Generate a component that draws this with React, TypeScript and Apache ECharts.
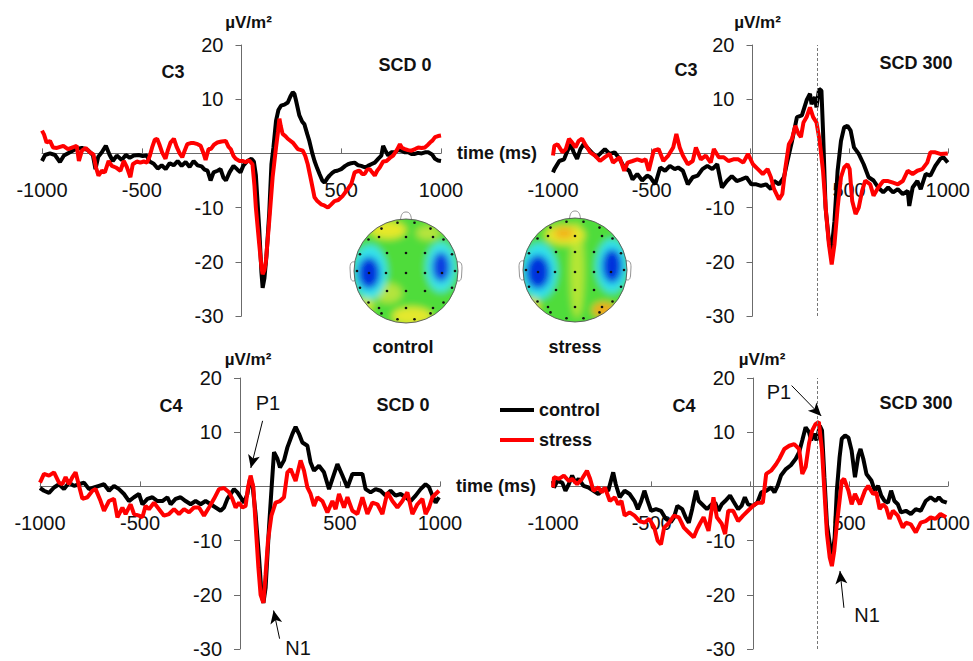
import React, { useEffect, useRef } from "react";
import * as echarts from "echarts";

type Pt = [number, number];

// ---------- data (time in ms, amplitude in µV/m²) ----------
const c3Scd0Control: Pt[] = [[-1000,-1.4],[-985,-0.3],[-960,0],[-935,-0.3],[-910,-1.6],[-890,-0.4],[-860,0.2],[-830,0.8],[-800,1.0],[-770,0.6],[-745,-0.3],[-732,-2.9],[-718,-0.6],[-700,0.2],[-680,1.4],[-662,-0.2],[-645,-1.4],[-625,-0.4],[-600,-1.2],[-580,-0.3],[-560,-0.8],[-540,-0.4],[-515,-0.3],[-495,-0.5],[-475,-0.4],[-460,-1.5],[-440,-1.9],[-420,-2.8],[-400,-2.2],[-380,-2.9],[-360,-1.8],[-340,-2.2],[-320,-1.4],[-300,-2.3],[-280,-1.6],[-260,-2.5],[-240,-1.4],[-220,-2.2],[-200,-2.4],[-185,-3.0],[-170,-3.2],[-155,-5.0],[-140,-3.5],[-120,-3.2],[-105,-2.9],[-90,-4.5],[-78,-5.0],[-60,-3.5],[-40,-2.3],[-20,-3.0],[-5,-3.5],[10,-2.2],[30,-1.4],[50,-1.0],[62,-1.5],[72,-4.0],[89,-14],[100,-22],[106,-24.8],[115,-23],[125,-19],[139,-11],[150,-2],[160,1.1],[173,6],[185,8],[198,8.8],[215,9],[232,9.4],[245,10.5],[257,11.3],[265,11],[273,9.8],[290,7],[305,5.8],[315,5.4],[330,3.5],[340,2.3],[355,0],[366,-1.4],[380,-2.8],[391,-3.8],[405,-5.0],[416,-5.4],[430,-4.6],[441,-4.1],[455,-3.6],[466,-3.3],[480,-3.2],[500,-2.9],[520,-2.3],[534,-2.0],[550,-1.8],[567,-1.7],[585,-2.2],[600,-2.3],[620,-2.6],[634,-2.3],[650,-2.0],[668,-1.7],[685,-1.0],[701,-0.4],[710,1.4],[720,0.6],[735,-0.4],[750,0.2],[768,0.2],[785,0.6],[802,0.5],[820,0.2],[836,0.2],[852,-0.1],[869,-0.1],[885,0.1],[903,0],[920,0.2],[936,0.2],[955,-0.2],[970,-1.0],[985,-1.3],[1000,-1.4]];
const c3Scd0Stress: Pt[] = [[-1000,4.2],[-990,3.5],[-977,2.0],[-960,2.3],[-945,1.1],[-925,1.0],[-893,1.4],[-870,0.8],[-840,1.2],[-826,1.4],[-815,-1.4],[-800,0.5],[-780,1.0],[-760,0.2],[-742,-0.2],[-730,-2.5],[-717,-4.1],[-700,-3.2],[-685,-3.5],[-666,-1.4],[-650,-2.3],[-630,-2.6],[-607,-3.2],[-590,-1.4],[-575,-2.5],[-557,-4.4],[-545,-2.0],[-525,-1.5],[-507,-1.7],[-490,-1.5],[-473,-1.7],[-460,-0.5],[-448,1.1],[-435,2.5],[-423,2.7],[-410,1.5],[-398,0.2],[-381,-1.0],[-370,0.5],[-356,2.0],[-339,2.7],[-325,1.2],[-310,0],[-297,-0.7],[-285,0.5],[-272,1.7],[-255,1.9],[-238,1.9],[-220,1.7],[-205,1.4],[-190,0],[-180,-1.2],[-165,0.8],[-154,0.8],[-138,1.6],[-121,2.0],[-100,2.2],[-79,2.3],[-65,1.2],[-54,0.8],[-40,-0.5],[-29,-1.0],[-10,-1.4],[5,-1.4],[20,-1.6],[39,-1.3],[55,-2.0],[65,-6],[72,-10],[89,-16.8],[100,-21],[106,-22.3],[115,-21.5],[122,-20],[139,-12.5],[156,-4.4],[173,1.1],[183,4],[190,6.4],[197,5],[206,3.6],[220,3.2],[232,2.7],[257,2.0],[282,0.8],[307,0.5],[320,-0.5],[332,-2],[349,-5],[366,-8.1],[380,-8.8],[399,-9.4],[415,-9.6],[433,-10],[450,-9.4],[466,-8.8],[485,-8.6],[508,-7.8],[530,-6.7],[550,-5.7],[567,-3.5],[580,-3.3],[592,-3.2],[605,-3.8],[617,-3.8],[630,-3.0],[643,-2.9],[655,-3.5],[668,-4.1],[680,-3.2],[693,-2.6],[710,-1.5],[727,-1.4],[745,-0.8],[760,-0.4],[780,0.7],[794,1.7],[805,1.0],[819,0.8],[835,0.6],[852,0.5],[870,0.8],[886,1.1],[903,1.0],[919,1.1],[935,1.6],[945,2.0],[958,2.4],[970,3.0],[985,3.2],[1000,3.3]];

const c3Scd300Control: Pt[] = [[-1000,-3.5],[-993,-2.9],[-968,-1.4],[-944,-1.1],[-930,0.2],[-911,1.7],[-895,0.2],[-878,-1.0],[-861,0.8],[-845,1.7],[-828,1.1],[-804,0.2],[-779,-0.7],[-754,0.2],[-737,0.8],[-713,-0.1],[-688,0.2],[-663,-1.0],[-639,-2.6],[-614,-3.2],[-597,-4.8],[-573,-3.8],[-548,-5.0],[-523,-4.1],[-507,-4.4],[-482,-5.7],[-457,-2.6],[-432,-3.2],[-408,-2.3],[-383,-2.9],[-366,-2.6],[-342,-3.2],[-317,-5.7],[-292,-4.4],[-267,-4.1],[-243,-2.9],[-218,-2.3],[-193,-2.9],[-168,-2.0],[-144,-6.3],[-119,-5.1],[-94,-4.2],[-69,-5.1],[-45,-4.8],[-20,-4.4],[5,-5.7],[30,-5.7],[54,-6.0],[79,-5.7],[104,-6.6],[120,-5.1],[145,-5.7],[170,-4.4],[186,-1.7],[211,2.3],[236,6.7],[261,7.0],[285,9.8],[302,11.0],[310,9.1],[327,10.4],[335,8.5],[348,11.9],[360,11.6],[368,4.2],[381,-10],[398,-16.2],[409,-18.6],[426,-12.5],[442,-3.2],[459,2.3],[475,4.8],[492,5.1],[508,4.2],[525,1.1],[549,-0.1],[574,-2.0],[599,-4.4],[624,-5.0],[648,-6.3],[673,-7.2],[698,-6.3],[723,-7.2],[747,-6.6],[772,-7.5],[797,-6.9],[805,-9.7],[822,-6.3],[846,-5.1],[863,-6.6],[888,-3.8],[912,-4.1],[937,-2.3],[962,-1.0],[978,-0.7],[1000,-1.7]];
const c3Scd300Stress: Pt[] = [[-1000,-0.4],[-993,1.4],[-977,1.7],[-952,0.2],[-935,0.8],[-919,2.7],[-903,2.0],[-886,1.1],[-870,2.3],[-853,2.7],[-837,1.7],[-812,0.2],[-787,-0.4],[-762,-1.4],[-737,-0.7],[-713,-0.1],[-696,-1.7],[-663,-0.7],[-639,-3.2],[-622,-1.7],[-597,-1.4],[-573,-1.1],[-548,-1.4],[-531,-1.1],[-515,-3.2],[-490,0.5],[-465,0.8],[-441,-1.4],[-416,-0.4],[-391,1.1],[-375,3.6],[-358,1.1],[-342,-0.4],[-317,-2.0],[-292,-1.4],[-276,1.1],[-251,-1.1],[-226,-0.4],[-201,-1.7],[-185,0.8],[-160,-0.7],[-135,-0.7],[-111,-1.4],[-86,-1.1],[-61,-1.1],[-36,-1.7],[-12,-0.1],[13,-2.0],[38,-2.9],[63,-3.8],[87,-2.9],[104,-4.4],[120,-6.6],[145,-8.5],[162,-7.5],[178,-2.5],[195,1.7],[211,2.7],[228,5.1],[244,3.6],[256,3.0],[269,5.7],[285,6.7],[302,8.5],[318,6.7],[335,5.7],[351,2.3],[368,-3.2],[384,-11.2],[398,-16.8],[412,-20.5],[426,-16.8],[442,-10],[459,-4.4],[475,-2.6],[492,-2.0],[503,-2.9],[516,-8.8],[533,-11.2],[549,-10],[566,-6.9],[582,-5.0],[607,-5.7],[624,-7.8],[648,-6.3],[673,-5.1],[698,-5.1],[723,-5.4],[747,-5.7],[772,-5.1],[797,-3.2],[822,-3.8],[846,-3.2],[871,-2.9],[896,-1.7],[912,0.2],[937,0.2],[962,-0.1],[1000,0]];

const c4Scd0Control: Pt[] = [[-1000,-0.3],[-980,-0.8],[-955,-1.2],[-930,-0.2],[-905,0.4],[-880,-0.5],[-855,0.7],[-830,0.1],[-805,0.4],[-780,0.7],[-755,-0.5],[-730,-0.2],[-705,0.1],[-680,0.4],[-655,-0.8],[-630,0.1],[-605,-0.5],[-580,-1.4],[-555,-2.7],[-530,-2.0],[-505,-1.4],[-488,-3.3],[-463,-2.3],[-438,-2.0],[-413,-2.7],[-388,-2.7],[-363,-2.0],[-347,-3.3],[-322,-2.3],[-297,-2.0],[-272,-2.7],[-247,-3.3],[-222,-2.7],[-197,-3.3],[-172,-2.7],[-147,-3.3],[-122,-3.9],[-97,-4.5],[-80,-3.9],[-63,-2.3],[-47,-1.4],[-30,-0.5],[-13,-1.1],[3,-2.0],[20,-3.0],[37,-1.4],[50,1.4],[62,0.4],[78,-5.1],[95,-13],[108,-20],[117,-21.5],[128,-18.7],[145,-7.6],[157,-0.8],[170,6.3],[187,5.1],[200,3.5],[220,4.8],[237,7.2],[262,9.7],[278,11],[295,9.7],[312,8.1],[337,7.5],[353,4.4],[370,2.9],[395,3.8],[420,2.6],[445,-0.5],[462,1.4],[487,4.1],[512,2.0],[537,-0.2],[562,2.3],[587,2.3],[612,2.3],[628,-0.5],[653,-1.1],[678,-0.5],[703,-0.8],[728,-1.7],[753,-0.8],[778,-1.7],[803,-1.4],[828,-2.0],[853,-2.7],[878,-1.7],[903,-0.5],[928,0.4],[945,-0.1],[962,-1.7],[978,-3.0],[995,-2.0]];
const c4Scd0Stress: Pt[] = [[-1000,0.7],[-980,2.3],[-955,2.0],[-930,2.6],[-905,0.7],[-888,0.4],[-872,1.7],[-855,0.4],[-838,1.7],[-822,2.6],[-805,0.1],[-788,-2.3],[-763,-2.0],[-738,-0.8],[-722,-0.5],[-697,-2.7],[-680,-4.5],[-655,-2.7],[-630,-2.3],[-613,-5.7],[-588,-3.9],[-572,-5.1],[-547,-3.3],[-530,-5.1],[-505,-5.4],[-488,-5.7],[-472,-3.6],[-455,-4.2],[-430,-3.0],[-405,-4.2],[-380,-5.4],[-355,-5.1],[-330,-4.2],[-305,-5.1],[-280,-4.2],[-255,-4.8],[-230,-3.9],[-205,-3.9],[-180,-5.4],[-155,-3.9],[-130,-2.3],[-105,-0.5],[-80,-0.3],[-55,-1.1],[-38,-2.3],[-22,-3.9],[-5,-3.0],[12,-3.9],[28,-3.6],[40,-0.2],[53,2.0],[67,-0.2],[78,-7],[92,-15],[103,-20],[117,-21.5],[128,-16.2],[140,-10],[157,-5.4],[178,-3.0],[200,-2.7],[220,-2.0],[237,2.6],[253,3.2],[278,1.0],[303,4.8],[320,2.9],[337,-0.2],[353,-1.4],[370,-3.6],[387,-2.0],[412,-2.7],[437,-4.8],[462,-2.7],[478,-4.2],[495,-1.4],[520,-3.9],[537,-2.0],[562,-4.5],[587,-5.1],[612,-2.0],[637,-5.1],[662,-3.0],[687,-3.3],[712,-5.1],[737,-1.1],[762,-2.7],[787,-3.9],[812,-2.7],[837,-1.1],[862,-5.1],[887,-3.3],[912,-2.3],[928,-5.1],[945,-3.9],[962,-2.0],[978,-1.4],[995,-0.8]];

const c4Scd300Control: Pt[] = [[-1000,1.0],[-995,-0.2],[-978,1.0],[-953,0.7],[-937,-0.8],[-920,0.4],[-903,2.0],[-887,0.7],[-870,1.4],[-845,0.1],[-820,-0.2],[-795,-0.8],[-770,-1.4],[-745,-0.5],[-720,-0.8],[-695,2.6],[-682,0.4],[-662,-2.0],[-637,-0.8],[-612,-1.4],[-587,-2.7],[-570,-4.2],[-553,-2.7],[-537,-0.8],[-520,-2.7],[-503,-4.5],[-478,-4.2],[-453,-4.5],[-428,-6.0],[-403,-6.6],[-387,-5.7],[-370,-3.6],[-345,-4.2],[-328,-5.7],[-312,-6.7],[-295,-4.2],[-275,-0.8],[-262,-2.7],[-245,-3.3],[-220,-4.2],[-195,-3.3],[-178,-3.0],[-162,-4.5],[-145,-3.3],[-128,-2.7],[-103,-1.7],[-87,-2.7],[-62,-4.2],[-45,-3.6],[-28,-2.0],[-12,-3.3],[13,-3.6],[35,-3.0],[55,-1.1],[80,-0.8],[105,-0.2],[122,-1.1],[138,0.1],[155,2.0],[180,3.2],[205,3.9],[230,5.1],[247,6.3],[263,8.5],[280,10.9],[297,10.0],[308,8.5],[322,9.7],[335,8.5],[352,11.2],[363,10.3],[375,1.7],[388,-7],[405,-11.3],[417,-12.5],[427,-9.4],[438,-0.8],[452,5.4],[463,8.8],[480,9.4],[497,9.0],[513,6.6],[530,1.7],[547,5.7],[558,6.9],[572,5.1],[588,2.3],[613,1.1],[630,-0.8],[647,0.1],[663,-1.7],[680,-2.7],[697,-3.0],[713,-0.8],[730,-2.7],[747,-3.3],[763,-4.8],[788,-4.5],[813,-5.1],[838,-4.2],[863,-4.5],[888,-2.7],[913,-2.0],[938,-2.7],[955,-2.0],[972,-2.7],[995,-3.0]];
const c4Scd300Stress: Pt[] = [[-1000,-0.2],[-995,1.7],[-970,1.4],[-945,2.0],[-920,1.0],[-903,1.4],[-878,0.4],[-853,1.4],[-828,2.9],[-812,1.4],[-795,-0.8],[-770,-0.2],[-753,-1.1],[-737,-0.2],[-712,-2.7],[-687,-2.0],[-670,-3.3],[-653,-2.7],[-637,-5.4],[-612,-4.8],[-587,-5.4],[-562,-6.4],[-537,-6.7],[-512,-6.0],[-487,-7.6],[-470,-10],[-453,-10.7],[-437,-7.6],[-412,-6.7],[-387,-5.4],[-362,-5.7],[-337,-7.6],[-312,-8.5],[-287,-9.4],[-270,-7.9],[-253,-6.7],[-237,-5.7],[-212,-8.2],[-187,-2.0],[-170,-5.7],[-145,-6.9],[-128,-8.8],[-112,-4.5],[-87,-4.5],[-62,-6.4],[-37,-5.4],[-12,-4.5],[13,-3.6],[38,-3.0],[63,-3.0],[80,2.3],[105,2.9],[130,4.1],[147,5.1],[172,6.9],[197,7.5],[222,7.8],[247,6.9],[263,2.3],[280,3.6],[297,7.9],[313,10.3],[330,11.5],[347,11.9],[363,6.6],[375,-0.8],[388,-8.8],[402,-13.1],[413,-14.7],[425,-11.9],[438,-7.0],[452,-2.6],[463,1.0],[475,1.4],[497,-0.8],[513,-3.3],[530,-1.4],[555,-3.3],[580,-0.8],[597,0.1],[622,-1.4],[638,-1.1],[655,-4.2],[672,-3.3],[688,-3.9],[705,-6.0],[722,-4.5],[747,-5.4],[772,-7.6],[788,-6.7],[813,-7.0],[838,-8.5],[863,-6.7],[888,-6.4],[913,-5.7],[938,-6.0],[963,-5.1],[992,-5.7]];

const xTicks = { min: -1000, max: 1000, interval: 500 };
const yTicks = { min: -30, max: 20, interval: 10 };
const scdOnset = 340; // dashed marker in SCD 300 panels
const seriesNames = ["control", "stress"];
const panelChannels = ["C3", "C3", "C4", "C4"];
const panelConditions = ["SCD 0", "SCD 300", "SCD 0", "SCD 300"];
// arrows: [fromT, fromV, toT, toV]
const p1ArrowScd0 = [113, 12.1, 54, 3.4];
const n1ArrowScd0 = [198, -28.1, 168, -22.9];
const p1ArrowScd300 = [209, 18.6, 359, 13.0];
const n1ArrowScd300 = [474, -22.4, 454, -15.6];

// ---------- helpers ----------
const FONT = "'Liberation Sans', Arial, sans-serif";

type Blob = [number, number, number, number, string];
const controlBlobs: Blob[] = [
  [-18, -41, 18, 9, "#e6e82c"], [22, -38, 12, 7, "#b8e43c"], [6, 45, 20, 9, "#e4e82e"],
  [-18, 22, 14, 10, "#b4e43c"], [-40, 34, 8, 8, "#c8e636"],
  [-36, 1, 17, 27, "#34e4ea"], [35, -4, 15, 25, "#3ce6e6"],
  [-37, 2, 11, 16, "#0632dc"], [35, -4, 9, 15, "#0a3ee0"],
];
const stressBlobs: Blob[] = [
  [2, 0, 7, 48, "#b6e636"], [-10, -35, 20, 10, "#e6e62c"], [-11, -37, 10, 6, "#f2b41e"],
  [29, 40, 12, 8, "#eeac1e"], [-43, 36, 8, 8, "#e2d82a"],
  [-36, 1, 18, 28, "#30e2ea"], [37, -4, 16, 27, "#30e2ea"],
  [-37, 2, 12, 17, "#0632dc"], [37, -4, 10, 17, "#0632dc"],
];

function electrodes(): Pt[] {
  const pts: Pt[] = [];
  for (let i = 0; i < 18; i++) {
    const a = (-80 + i * 20) * Math.PI / 180;
    pts.push([49 * Math.cos(a), 49 * Math.sin(a)]);
  }
  [-27, 0, 27].forEach((x) => { pts.push([x, -34]); pts.push([x, 37]); });
  [-19, 0, 19].forEach((x) => { pts.push([x, -18]); pts.push([x, 20]); });
  [-37, -20, 0, 19, 36].forEach((x) => pts.push([x, 2]));
  return pts;
}

function headSvg(blobs: Blob[]): string {
  const cx = 60, cy = 62;
  const blobEls = blobs.map(([x, y, rx, ry, c]) =>
    `<ellipse cx="${cx + x}" cy="${cy + y}" rx="${rx}" ry="${ry}" fill="${c}"/>`).join("");
  const dots = electrodes().map(([x, y]) =>
    `<circle cx="${(cx + x).toFixed(1)}" cy="${(cy + y).toFixed(1)}" r="1.3" fill="#111"/>`).join("");
  const svg = `<svg xmlns="http://www.w3.org/2000/svg" width="120" height="120" viewBox="0 0 120 120">` +
    `<defs><clipPath id="c"><circle cx="60" cy="62" r="52"/></clipPath>` +
    `<filter id="b" x="-10%" y="-10%" width="120%" height="120%"><feGaussianBlur stdDeviation="3.8"/></filter></defs>` +
    `<path d="M54.5 11 C55 4 57.5 3 60 3 C62.5 3 65 4 65.5 11" fill="#fff" stroke="#888" stroke-width="0.9"/>` +
    `<path d="M9 53 C5 52 4 55 4 59 L4.5 68 C5 72 7 73 9.5 71" fill="#fff" stroke="#888" stroke-width="0.9"/>` +
    `<path d="M111 53 C115 52 116 55 116 59 L115.5 68 C115 72 113 73 110.5 71" fill="#fff" stroke="#888" stroke-width="0.9"/>` +
    `<g clip-path="url(#c)"><g filter="url(#b)"><rect x="-10" y="-10" width="140" height="140" fill="#4fdc3a"/>${blobEls}</g></g>` +
    `<circle cx="60" cy="62" r="52" fill="none" stroke="#555" stroke-width="0.9"/>` + dots + `</svg>`;
  return "data:image/svg+xml;charset=utf-8," + encodeURIComponent(svg);
}

const grids = [
  { left: 42, top: 45, width: 399, height: 271 },
  { left: 553, top: 45, width: 399, height: 271 },
  { left: 40, top: 378, width: 400, height: 271 },
  { left: 553, top: 378, width: 400, height: 271 },
];
const yNameGap = [14, 14, 8, 8];
const yNamePad = [14, 10, 16, 18];

function arrow(a: number[]) {
  return [
    { coord: [a[0], a[1]], symbol: "none" },
    { coord: [a[2], a[3]], symbol: "arrow", symbolSize: [9, 13] },
  ];
}

export default function App() {
  const ref = useRef<HTMLDivElement>(null);
  useEffect(() => {
    if (!ref.current) return;
    const chart = echarts.init(ref.current, undefined, { renderer: "svg" });
    const axisColor = "#6b6b6b";
    // place the axes where the other axis is zero
    const zeroFrac = (0 - yTicks.min) / (yTicks.max - yTicks.min);
    const xZeroFrac = (0 - xTicks.min) / (xTicks.max - xTicks.min);
    const xAxes = grids.map((g, i) => ({
      gridIndex: i, type: "value", ...xTicks, position: "bottom",
      offset: -g.height * zeroFrac,
      axisLine: { onZero: false, lineStyle: { color: axisColor, width: 1 } },
      axisTick: { inside: true, length: 5, lineStyle: { color: axisColor } },
      axisLabel: { fontSize: 20, color: "#111", margin: 27, fontFamily: FONT, showMinLabel: true, showMaxLabel: true,
        formatter: (v: number) => (v === 0 ? "" : String(v)) },
      splitLine: { show: false },
      name: i % 2 === 0 ? "time (ms)" : "",
      nameLocation: "end", nameGap: 16,
      nameTextStyle: { fontSize: 18, fontWeight: "bold", color: "#111", fontFamily: FONT },
    }));
    const yAxes = grids.map((g, i) => ({
      gridIndex: i, type: "value", ...yTicks, position: "left",
      offset: -g.width * xZeroFrac,
      axisLine: { onZero: false, lineStyle: { color: axisColor, width: 1 } },
      axisTick: { inside: false, length: 6, lineStyle: { color: axisColor } },
      axisLabel: { fontSize: 20, color: "#111", margin: 18, fontFamily: FONT,
        formatter: (v: number) => (v === 0 ? "" : String(v)) },
      splitLine: { show: false },
      name: "µV/m²", nameLocation: "end", nameGap: yNameGap[i],
      nameTextStyle: { fontSize: 17, fontWeight: "bold", color: "#111", fontFamily: FONT, padding: [0, 0, 0, yNamePad[i]] },
    }));
    const panels: [Pt[], Pt[]][] = [
      [c3Scd0Control, c3Scd0Stress],
      [c3Scd300Control, c3Scd300Stress],
      [c4Scd0Control, c4Scd0Stress],
      [c4Scd300Control, c4Scd300Stress],
    ];
    const series: any[] = [];
    panels.forEach(([ctl, str], i) => {
      const ctlS: any = {
        type: "line", name: seriesNames[0], xAxisIndex: i, yAxisIndex: i, data: ctl,
        symbol: "none", lineStyle: { color: "#000", width: 4 }, itemStyle: { color: "#000" }, z: 3,
      };
      const strS: any = {
        type: "line", name: seriesNames[1], xAxisIndex: i, yAxisIndex: i, data: str,
        symbol: "none", lineStyle: { color: "#ff0000", width: 4 }, itemStyle: { color: "#ff0000" }, z: 4,
      };
      if (i % 2 === 1) {
        ctlS.markLine = {
          silent: true, symbol: ["none", "none"], label: { show: false },
          lineStyle: { color: "#777", type: [3, 2], width: 1 },
          data: [{ xAxis: scdOnset }],
        };
      }
      if (i >= 2) {
        const arrows = i === 2 ? [p1ArrowScd0, n1ArrowScd0] : [p1ArrowScd300, n1ArrowScd300];
        strS.markLine = {
          silent: true, label: { show: false },
          lineStyle: { color: "#000", type: "solid", width: 1 },
          itemStyle: { color: "#000" },
          data: arrows.map(arrow),
        };
      }
      series.push(ctlS, strS);
    });

    const txt = (text: string, x: number, y: number, size: number, bold: boolean) => ({
      type: "text", x, y, z: 10,
      style: { text, fontSize: size, fontWeight: bold ? "bold" : "normal", fill: "#111",
        fontFamily: FONT, align: "center", verticalAlign: "middle" },
    });
    const labelPos = [[173, 72, 405, 65], [686, 70, 916, 63], [171, 406, 403, 405], [684, 406, 916, 403]];
    const graphics: any[] = [];
    labelPos.forEach((p, i) => {
      graphics.push(txt(panelChannels[i], p[0], p[1], 18, true));
      graphics.push(txt(panelConditions[i], p[2], p[3], 18, true));
    });
    graphics.push(txt("P1", 268, 403, 20, false));
    graphics.push(txt("N1", 298, 648, 20, false));
    graphics.push(txt("P1", 779, 392, 20, false));
    graphics.push(txt("N1", 867, 615, 20, false));
    graphics.push({ type: "image", x: 346, y: 209, z: 5, style: { image: headSvg(controlBlobs), width: 120, height: 120 } });
    graphics.push({ type: "image", x: 515, y: 208, z: 5, style: { image: headSvg(stressBlobs), width: 120, height: 120 } });
    graphics.push(txt("control", 403, 347, 18, true));
    graphics.push(txt("stress", 575, 347, 18, true));

    chart.setOption({
      animation: false,
      backgroundColor: "#fff",
      grid: grids.map((g) => ({ ...g, containLabel: false })),
      xAxis: xAxes,
      yAxis: yAxes,
      legend: {
        data: seriesNames.map((n) => ({ name: n, icon: "rect" })),
        left: 495, top: 396, orient: "vertical",
        itemWidth: 34, itemHeight: 4, itemGap: 12, selectedMode: false,
        textStyle: { fontSize: 18, fontWeight: "bold", color: "#111", fontFamily: FONT, lineHeight: 18 },
      },
      series,
      graphic: graphics,
    });
    return () => chart.dispose();
  }, []);
  return <div ref={ref} style={{ position: "fixed", left: 0, top: 0, width: 973, height: 661 }} />;
}
